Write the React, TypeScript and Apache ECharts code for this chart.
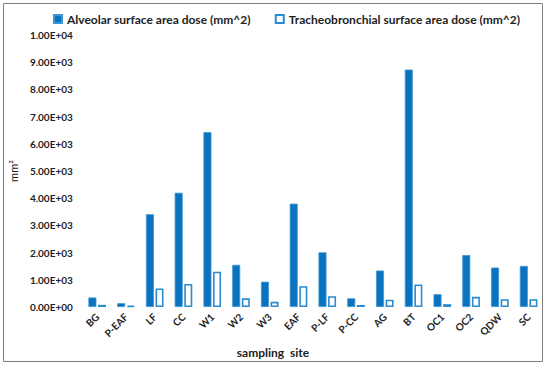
import React, { useEffect, useRef } from "react";
import * as echarts from "echarts";

const categories = ["BG", "P-EAF", "LF", "CC", "W1", "W2", "W3", "EAF", "P-LF", "P-CC", "AG", "BT", "OC1", "OC2", "QDW", "SC"];
const alveolar = [350, 140, 3410, 4200, 6430, 1550, 930, 3800, 2010, 320, 1340, 8730, 470, 1910, 1450, 1510];
const tracheobronchial = [80, 45, 680, 845, 1300, 320, 190, 765, 395, 75, 270, 830, 105, 375, 285, 285];
const seriesNames = ["Alveolar surface area dose (mm^2)", "Tracheobronchial surface area dose (mm^2)"];
const yTicks = { min: 0, max: 10000, interval: 1000 };

const FONT = "Lato";
const BLUE = "#0b72bd";
const BLUE_EDGE = "#3d97d6";

function sci(v: number): string {
  if (v === 0) return "0.00E+00";
  const e = Math.floor(Math.log10(Math.abs(v)));
  const m = v / Math.pow(10, e);
  const sign = e < 0 ? "-" : "+";
  const ee = Math.abs(e).toString().padStart(2, "0");
  return m.toFixed(2) + "E" + sign + ee;
}

export default function App() {
  const ref = useRef<HTMLDivElement>(null);
  useEffect(() => {
    document.body.style.margin = "0";
    const chart = echarts.init(ref.current!, null, { renderer: "svg" });
    chart.setOption({
      animation: false,
      backgroundColor: "#ffffff",
      textStyle: { fontFamily: FONT },
      legend: {
        left: 48,
        top: 8,
        itemWidth: 8,
        itemHeight: 8,
        itemGap: 24,
        icon: "rect",
        textStyle: { fontFamily: FONT, fontSize: 12, fontWeight: "bold", color: "#222" },
        data: seriesNames,
      },
      grid: { left: 74, right: 7, top: 35, bottom: 61, containLabel: false },
      xAxis: {
        type: "category",
        data: categories,
        axisLine: { show: false },
        axisTick: { show: false },
        axisLabel: {
          rotate: 45,
          margin: 8,
          fontFamily: FONT,
          fontSize: 10,
          fontWeight: "bold",
          color: "#222",
          interval: 0,
        },
      },
      yAxis: {
        type: "value",
        min: yTicks.min,
        max: yTicks.max,
        interval: yTicks.interval,
        name: "mm²",
        nameLocation: "middle",
        nameRotate: 90,
        nameGap: 56,
        nameTextStyle: { fontFamily: FONT, fontSize: 11, color: "#222" },
        axisLine: { show: false },
        axisTick: { show: false },
        splitLine: { show: false },
        axisLabel: {
          formatter: (v: number) => sci(v),
          margin: 10,
          fontFamily: FONT,
          fontSize: 10,
          fontWeight: "bold",
          color: "#222",
        },
      },
      graphic: [
        {
          type: "rect",
          shape: { x: 3.5, y: 3.5, width: 539, height: 358 },
          style: { fill: "none", stroke: "#7f7f7f", lineWidth: 1 },
          silent: true,
        },
        {
          type: "text",
          x: 273,
          y: 352,
          style: {
            text: "sampling  site",
            fontFamily: FONT,
            fontSize: 12,
            fontWeight: "bold",
            fill: "#222",
            textAlign: "center",
            textVerticalAlign: "middle",
          },
        },
      ],
      series: [
        {
          name: seriesNames[0],
          type: "bar",
          data: alveolar,
          barWidth: 8,
          barGap: "20%",
          itemStyle: { color: BLUE, borderColor: BLUE_EDGE, borderWidth: 0.8 },
        },
        {
          name: seriesNames[1],
          type: "bar",
          data: tracheobronchial,
          barWidth: 8,
          itemStyle: { color: "#ffffff", borderColor: "#2a8bd0", borderWidth: 1.6 },
        },
      ],
    });
    return () => chart.dispose();
  }, []);
  return <div ref={ref} style={{ width: 550, height: 368 }} />;
}
